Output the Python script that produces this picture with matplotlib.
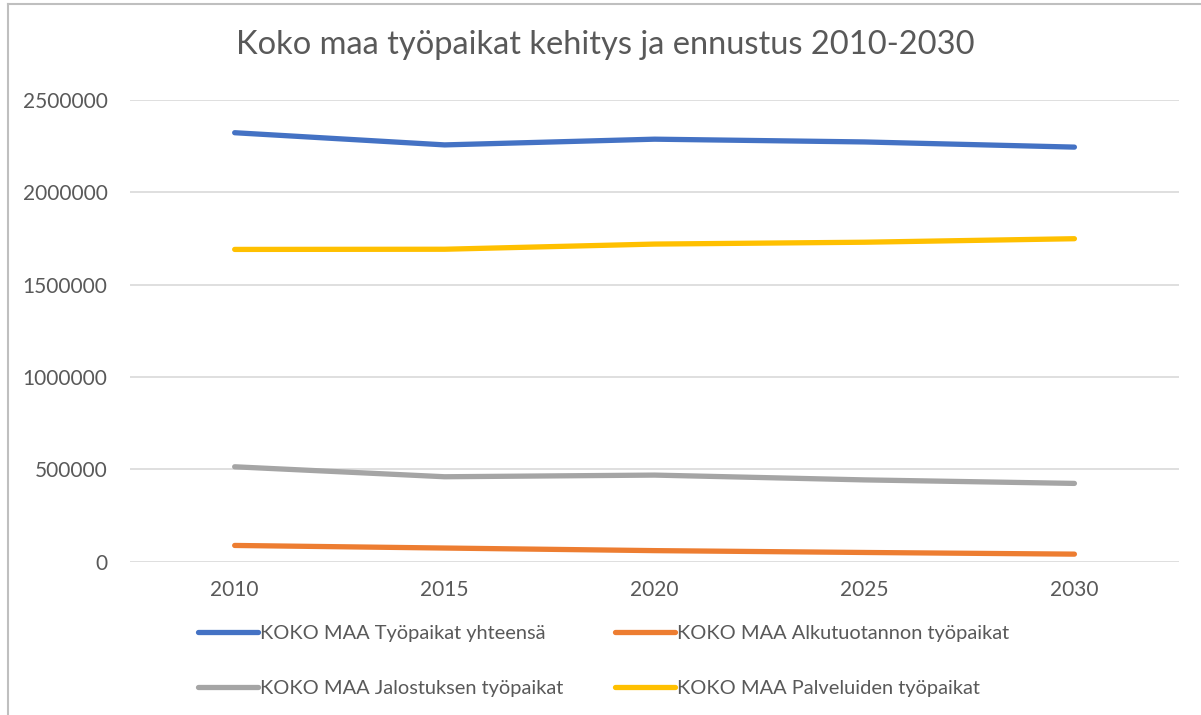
import matplotlib
matplotlib.use("Agg")
import matplotlib.pyplot as plt
from matplotlib.lines import Line2D

# Data
years = ["2010", "2015", "2020", "2025", "2030"]
tyopaikat_yhteensa = [2323000, 2257000, 2288000, 2273000, 2245000]
alkutuotanto = [88000, 74000, 60000, 50000, 41000]
jalostus = [514000, 460000, 469000, 443000, 424000]
palvelut = [1691000, 1692000, 1720000, 1730000, 1749000]

series = [
    ("KOKO MAA Työpaikat yhteensä", tyopaikat_yhteensa, "#4472C4"),
    ("KOKO MAA Alkutuotannon työpaikat", alkutuotanto, "#ED7D31"),
    ("KOKO MAA Jalostuksen työpaikat", jalostus, "#A5A5A5"),
    ("KOKO MAA Palveluiden työpaikat", palvelut, "#FFC000"),
]

plt.rcParams["font.family"] = ["Lato", "DejaVu Sans"]
text_color = "#595959"

fig = plt.figure(figsize=(12.01, 7.15), dpi=100)
ax = fig.add_axes([0.108, 0.2144, 0.874, 0.6457])

x = range(len(years))
lines = []
for label, values, color in series:
    ln, = ax.plot(x, values, color=color, lw=3.8, solid_capstyle="round", label=label)
    lines.append(ln)

ax.set_xlim(-0.5, len(years) - 0.5)
ax.set_ylim(0, 2500000)
ax.set_yticks(range(0, 2500001, 500000))
ax.set_yticklabels([str(v) for v in range(0, 2500001, 500000)])
ax.set_xticks(list(x))
ax.set_xticklabels(years)

ax.grid(axis="y", color="#D9D9D9", lw=1.2)
ax.set_axisbelow(True)
for s in ax.spines.values():
    s.set_visible(False)
ax.tick_params(axis="both", length=0, labelsize=15, colors=text_color)
ax.tick_params(axis="y", pad=16)
ax.tick_params(axis="x", pad=13)

fig.suptitle("Koko maa työpaikat kehitys ja ennustus 2010-2030",
             x=0.504, y=0.958, fontsize=23.5, color=text_color)

# legend fills column-wise, so reorder to get rows: blue/orange, gray/yellow
order = [0, 2, 1, 3]
fig.legend([lines[i] for i in order], [series[i][0] for i in order],
           loc="upper left", bbox_to_anchor=(0.158, 0.137), ncol=2,
           frameon=False, fontsize=14.4, labelcolor=text_color,
           handlelength=3.0, handletextpad=0.1, columnspacing=2.6,
           labelspacing=1.9, borderaxespad=0)

# chart frame edges
fig.add_artist(Line2D([0.007, 1.0], [0.994, 0.994], color="#BFBFBF", lw=1.5))
fig.add_artist(Line2D([0.007, 0.007], [0.0, 0.994], color="#BFBFBF", lw=1.5))

fig.savefig("out.png", dpi=100, facecolor="white")
